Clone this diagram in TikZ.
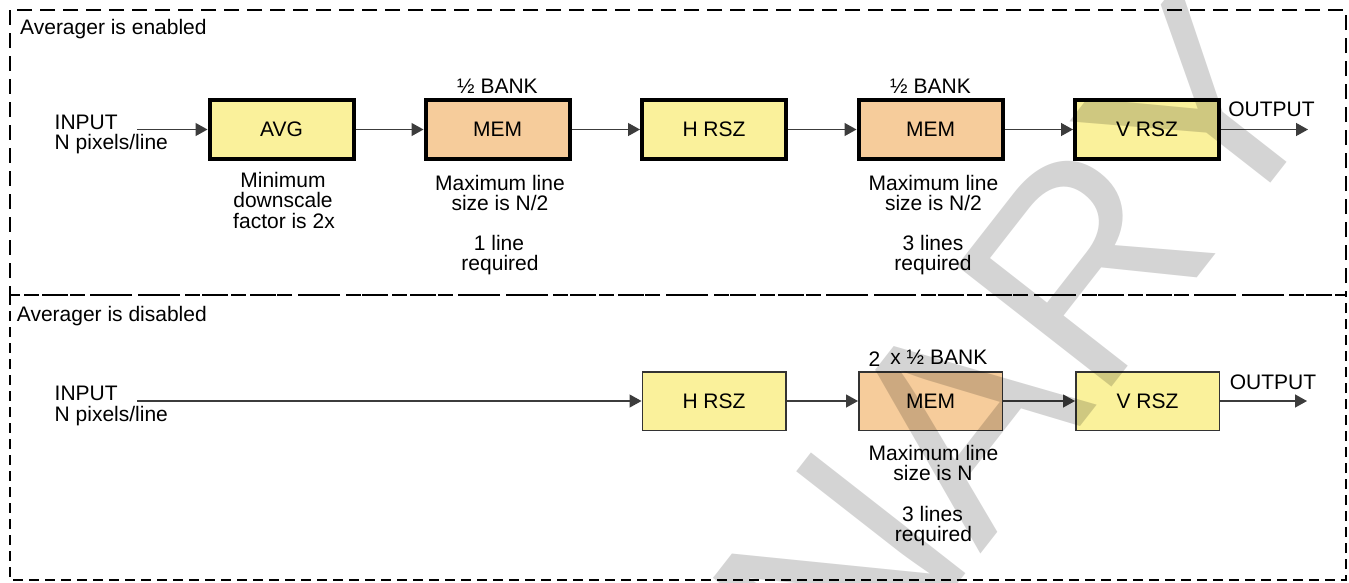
\documentclass[tikz,border=0pt]{standalone}
\usepackage{fontspec}
\setmainfont{Liberation Sans}
\usetikzlibrary{arrows.meta,shadows}
\definecolor{boxyel}{RGB}{250,241,155}
\definecolor{boxora}{RGB}{246,204,155}
\definecolor{linegray}{RGB}{60,60,60}
\begin{document}
\begin{tikzpicture}[x=1pt,y=-1pt,
  font=\fontsize{21}{21}\selectfont,
  thickbox/.style={draw=black, line width=4pt, minimum width=144pt, minimum height=59pt, inner sep=0pt,
    drop shadow={shadow xshift=1.3pt, shadow yshift=-1.3pt, opacity=1, fill=black}},
  thinbox/.style={draw=black!80, line width=1.5pt, minimum width=143.5pt, minimum height=58.5pt, inner sep=0pt},
  yel/.style={fill=boxyel},
  ora/.style={fill=boxora},
  flow/.style={draw=linegray, line width=1.3pt, -{Triangle[length=12pt,width=13pt]}},
  lbl/.style={inner sep=0pt, anchor=base},
  lbll/.style={inner sep=0pt, anchor=base west},
  topframe/.style={dash pattern=on 15pt off 8pt, line width=2pt},
  botframe/.style={dash pattern=on 10pt off 6pt, line width=1.8pt}]
\useasboundingbox (0,0) rectangle (1349,582);
\fill[white] (0,0) rectangle (1349,582);

% frames
\draw[topframe] (10,10) rectangle (1346,295);
\draw[botframe] (10,295) rectangle (1346,580);

% section titles
\node[lbll] (ten) at (20,34.3) {Averager is enabled};
\node[lbll] (tdis) at (16.7,321.5) {Averager is disabled};

% ---------- top row ----------
\node[thickbox,yel] (avg)   at (281.5,129.5) {AVG};
\node[thickbox,ora] (mem1)  at (497.5,129.5) {MEM};
\node[thickbox,yel] (hrsz1) at (714,129.5) {H RSZ};
\node[thickbox,ora] (mem2)  at (930.5,129.5) {MEM};
\node[thickbox,yel] (vrsz1) at (1147,129.5) {V RSZ};

\node[lbll] (in1a) at (54.5,129.5) {INPUT};
\node[lbll] (in1b) at (54.5,149.5) {N pixels/line};
\coordinate (in1) at (137,129.5);
\coordinate (out1) at (1308,129.5);
\node[lbl] (out1l) at (1271.5,116.7) {OUTPUT};

\draw[flow] (in1) -- (avg);
\draw[flow] (avg) -- (mem1);
\draw[flow] (mem1) -- (hrsz1);
\draw[flow] (hrsz1) -- (mem2);
\draw[flow] (mem2) -- (vrsz1);
\draw[flow] (vrsz1) -- (out1);

\node[lbl] (bank1) at (497.5,93.3) {½ BANK};
\node[lbl] (bank2) at (930.5,93.3) {½ BANK};

\node[lbl] (avga) at (283,187) {Minimum};
\node[lbl] (avgb) at (283,207.5) {downscale};
\node[lbl] (avgc) at (284,228) {factor is 2x};

\node[lbl] (m1a) at (500,190.5) {Maximum line};
\node[lbl] (m1b) at (500,210.5) {size is N/2};
\node[lbl] (m1c) at (499,250) {1 line};
\node[lbl] (m1d) at (500,270.5) {required};

\node[lbl] (m2a) at (933.5,190.5) {Maximum line};
\node[lbl] (m2b) at (933.5,210.5) {size is N/2};
\node[lbl] (m2c) at (933,250) {3 lines};
\node[lbl] (m2d) at (933,270.5) {required};

% ---------- bottom row ----------
\node[thinbox,yel] (hrsz2) at (714,401) {H RSZ};
\node[thinbox,ora] (mem3)  at (930.5,401) {MEM};
\node[thinbox,yel] (vrsz2) at (1147.5,401) {V RSZ};

\node[lbll] (in2a) at (54.5,400.7) {INPUT};
\node[lbll] (in2b) at (54.5,421.5) {N pixels/line};
\coordinate (in2) at (137,401);
\coordinate (out2) at (1307,401);
\node[lbl] (out2l) at (1273,389.3) {OUTPUT};

\draw[flow] (in2) -- (hrsz2);
\draw[flow] (hrsz2) -- (mem3);
\draw[flow] (mem3) -- (vrsz2);
\draw[flow] (vrsz2) -- (out2);

\node[lbl] (bank3) at (928,364) {\raisebox{-2pt}{2}\hspace{10pt}x ½ BANK};

\node[lbl] (m3a) at (933.5,460.7) {Maximum line};
\node[lbl] (m3b) at (933,480.7) {size is N};
\node[lbl] (m3c) at (932.5,521) {3 lines};
\node[lbl] (m3d) at (933.5,541.5) {required};

% ---------- watermark ----------
\begin{scope}
\clip (0,0) rectangle (1349,582);
\node[rotate=52, anchor=base east, inner sep=0pt, text=black, text opacity=0.17,
      font=\fontsize{285}{285}\selectfont] (wm) at (1338,97) {PRELIMINARY};
\end{scope}
\end{tikzpicture}
\end{document}
